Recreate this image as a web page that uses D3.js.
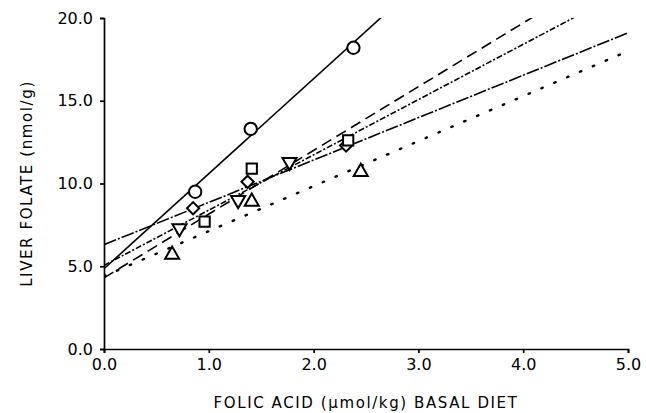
<!DOCTYPE html>
<html lang="en">
<head>
    <meta charset="UTF-8">
    <title>Liver folate vs folic acid</title>
    <script src="https://d3js.org/d3.v7.min.js"></script>
    <style>
        body {
            margin: 0;
            padding: 0;
            background: #fff;
        }
        svg {
            display: block;
        }
        text {
            font-family: "DejaVu Sans", Arial, sans-serif;
            fill: #000;
        }
    </style>
</head>
<body>
    <svg id="chart" width="646" height="413"></svg>

    <script>
        // axis ticks
        const xTicks = [0, 1, 2, 3, 4, 5];
        const yTicks = [0, 5, 10, 15, 20];

        // measured points, one array per group
        const circles = [[0.87, 9.5], [1.4, 13.3], [2.38, 18.2]];
        const diamonds = [[0.85, 8.5], [1.37, 10.1], [2.31, 12.3]];
        const squares = [[0.96, 7.7], [1.41, 10.9], [2.33, 12.6]];
        const trianglesDown = [[0.72, 7.3], [1.28, 9.0], [1.77, 11.3]];
        const trianglesUp = [[0.65, 5.7], [1.41, 8.9], [2.45, 10.7]];

        // fitted lines: intercept and slope per group
        const groups = ["circles", "diamonds", "squares", "trianglesDown", "trianglesUp"];
        const intercepts = [4.85, 6.3, 4.3, 5.05, 4.4];
        const slopes = [5.74, 2.56, 3.85, 3.34, 2.72];

        const svg = d3.select("#chart");
        const margin = {left: 104, right: 18, top: 18, bottom: 64};
        const width = 646, height = 413;

        const x = d3.scaleLinear().domain([0, 5]).range([margin.left, width - margin.right]);
        const y = d3.scaleLinear().domain([0, 20]).range([height - margin.bottom, margin.top]);

        // clip so fit lines stop at the top of the frame
        svg.append("clipPath").attr("id", "plot")
            .append("rect")
            .attr("x", x(0)).attr("y", y(20))
            .attr("width", x(5) - x(0)).attr("height", y(0) - y(20));

        const xAxis = svg.append("g")
            .attr("transform", `translate(0,${y(0)})`)
            .call(d3.axisBottom(x).tickValues(xTicks).tickFormat(d3.format(".1f")).tickSize(4).tickPadding(6));

        const yAxis = svg.append("g")
            .attr("transform", `translate(${x(0)},0)`)
            .call(d3.axisLeft(y).tickValues(yTicks).tickFormat(d3.format(".1f")).tickSize(4).tickPadding(7));

        [xAxis, yAxis].forEach(a => {
            a.select(".domain").attr("stroke", "#000").attr("stroke-width", 1.7);
            a.selectAll(".tick line").attr("stroke", "#000").attr("stroke-width", 1.7);
            a.selectAll("text").style("font-size", "16px").attr("fill", "#000");
        });

        // axis titles
        svg.append("text")
            .attr("x", (x(0) + x(5)) / 2)
            .attr("y", 408)
            .attr("text-anchor", "middle")
            .style("font-size", "15px")
            .style("letter-spacing", "1.6px")
            .text("FOLIC ACID (\u03BCmol/kg) BASAL DIET");

        svg.append("text")
            .attr("transform", `translate(32,${(y(0) + y(20)) / 2}) rotate(-90)`)
            .attr("text-anchor", "middle")
            .style("font-size", "15px")
            .style("letter-spacing", "1.6px")
            .text("LIVER FOLATE (nmol/g)");

        // fitted lines
        const dashes = ["none", "13,2,2,2", "11,6", "6,2,2,2", "1.5,12.5"];
        const lineGroup = svg.append("g").attr("clip-path", "url(#plot)");

        groups.forEach((g, i) => {
            const pts = [[0, intercepts[i]], [5, intercepts[i] + slopes[i] * 5]];
            lineGroup.append("path")
                .datum(pts)
                .attr("d", d3.line().x(d => x(d[0])).y(d => y(d[1])))
                .attr("fill", "none")
                .attr("stroke", "#000")
                .attr("stroke-width", i === 4 ? 2.4 : 1.6)
                .attr("stroke-linecap", i === 4 ? "round" : "butt")
                .attr("stroke-dasharray", dashes[i]);
        });

        // markers
        const markerSets = [
            {data: circles, type: d3.symbolCircle, size: 120, rot: 0},
            {data: diamonds, type: d3.symbolSquare, size: 75, rot: 45},
            {data: squares, type: d3.symbolSquare, size: 105, rot: 0},
            {data: trianglesDown, type: d3.symbolTriangle, size: 85, rot: 180},
            {data: trianglesUp, type: d3.symbolTriangle, size: 85, rot: 0}
        ];

        markerSets.forEach(m => {
            svg.append("g")
                .selectAll("path")
                .data(m.data)
                .enter().append("path")
                .attr("d", d3.symbol().type(m.type).size(m.size))
                .attr("transform", d => `translate(${x(d[0])},${y(d[1])}) rotate(${m.rot})`)
                .attr("fill", "#fff")
                .attr("stroke", "#000")
                .attr("stroke-width", 2);
        });
    </script>
</body>
</html>
